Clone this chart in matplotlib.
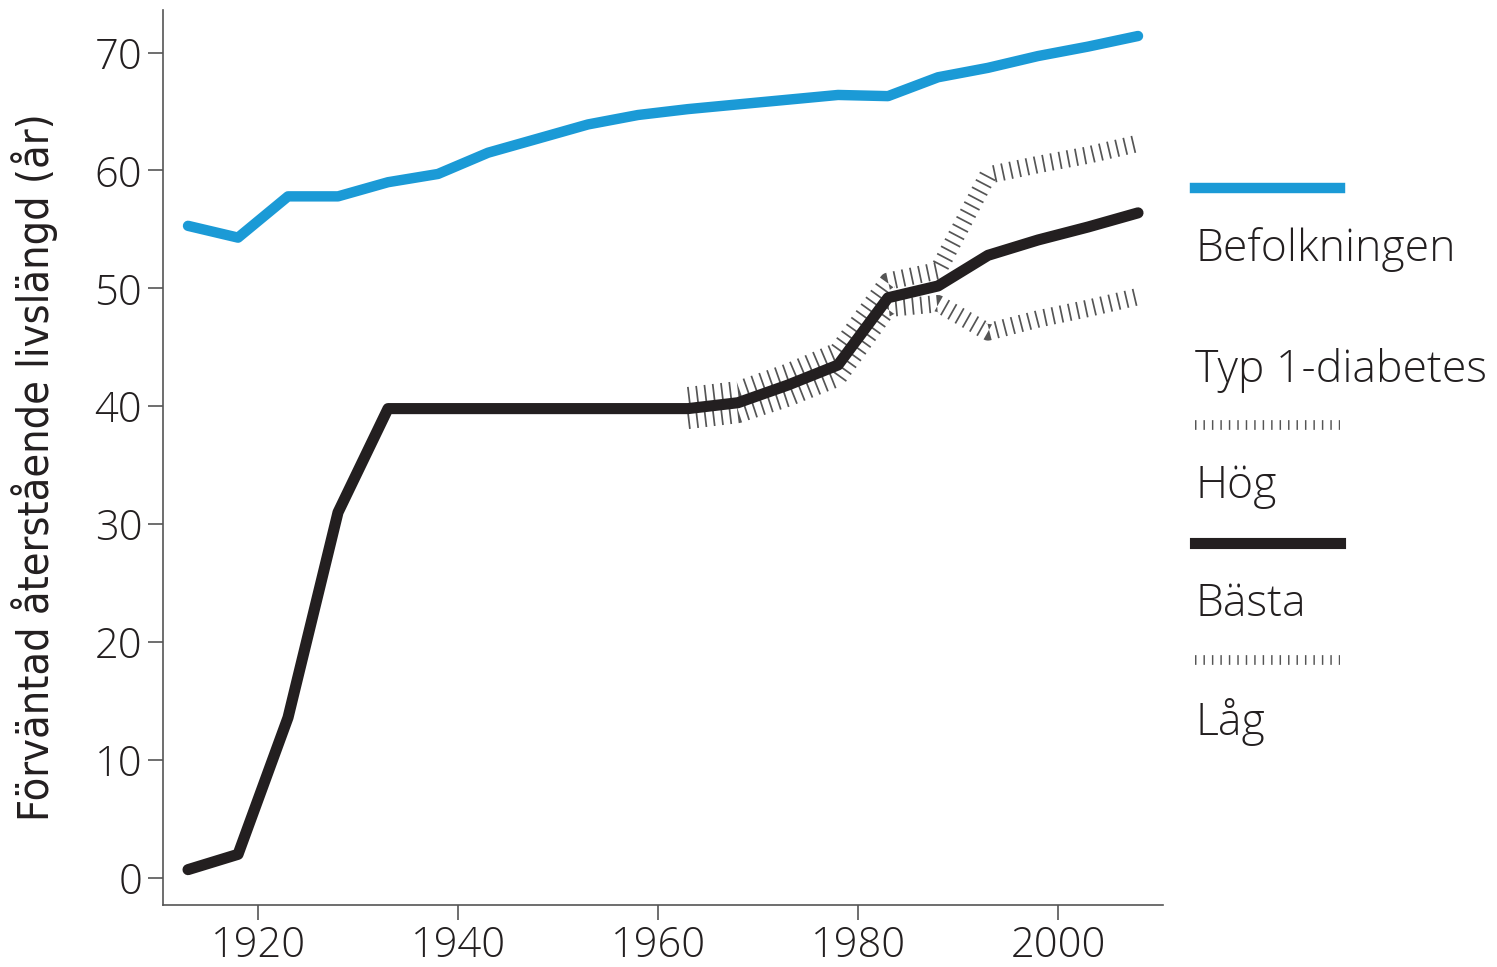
import matplotlib.pyplot as plt
from matplotlib.lines import Line2D

# data
years = [1913, 1918, 1923, 1928, 1933, 1938, 1943, 1948, 1953, 1958,
         1963, 1968, 1973, 1978, 1983, 1988, 1993, 1998, 2003, 2008]
befolkningen = [55.3, 54.3, 57.8, 57.8, 59.0, 59.7, 61.5, 62.7, 63.9, 64.7,
                65.2, 65.6, 66.0, 66.4, 66.3, 67.9, 68.7, 69.7, 70.5, 71.4]
basta = [0.7, 2.0, 13.6, 31.0, 39.8, 39.8, 39.8, 39.8, 39.8, 39.8,
         39.8, 40.3, 41.8, 43.5, 49.2, 50.2, 52.8, 54.1, 55.2, 56.4]

years_range = [1963, 1968, 1973, 1978, 1983, 1988, 1993, 1998, 2003, 2008]
hog = [40.9, 41.4, 42.9, 44.7, 50.6, 51.5, 59.6, 60.5, 61.3, 62.3]
lag = [38.8, 39.3, 40.7, 42.4, 48.3, 48.7, 46.3, 47.4, 48.3, 49.3]

xticks = [1920, 1940, 1960, 1980, 2000]
yticks = [0, 10, 20, 30, 40, 50, 60, 70]

BLUE = '#1b9ad6'
BLACK = '#231f20'
HATCH = '#555555'
FONT = ['Open Sans', 'DejaVu Sans']
hatch_style = (0, (0.1, 0.38))

fig = plt.figure(figsize=(14.97, 9.67), dpi=100)
ax = fig.add_axes([0.1089, 0.0641, 0.668, 0.9255])

for vals in (hog, lag):
    ax.plot(years_range, vals, color=HATCH, lw=12.5, ls=hatch_style,
            dash_joinstyle='round', zorder=2)
ax.plot(years, befolkningen, color=BLUE, lw=7.5, solid_capstyle='round',
        solid_joinstyle='round', zorder=3)
ax.plot(years, basta, color=BLACK, lw=8, solid_capstyle='round',
        solid_joinstyle='round', zorder=4)

ax.set_xlim(1910.5, 2010.5)
ax.set_ylim(-2.3, 73.6)
ax.set_xticks(xticks)
ax.set_yticks(yticks)
for s in ['top', 'right']:
    ax.spines[s].set_visible(False)
for s in ['left', 'bottom']:
    ax.spines[s].set_color('#555555')
    ax.spines[s].set_linewidth(1.2)
ax.tick_params(axis='both', colors='#555555', width=1.2, length=11,
               labelcolor=BLACK, labelsize=30, pad=4)
ax.tick_params(axis='x', pad=3)
for lab in ax.get_xticklabels() + ax.get_yticklabels():
    lab.set_family(FONT)
    lab.set_fontweight('light')

ax.set_ylabel('Förväntad återstående livslängd (år)', fontsize=31,
              family='DejaVu Sans', fontstretch='condensed',
              fontweight='light', color=BLACK)
ax.yaxis.set_label_coords(-0.105, 0.489)

# legend drawn by hand, labels below the samples
x0, x1 = 1195 / 1497, 1340 / 1497
def fy(py):
    return 1 - py / 967

hatch_legend = (0, (0.15, 0.72))
fig.add_artist(Line2D([x0, x1], [fy(188), fy(188)], color=BLUE, lw=7.5))
fig.add_artist(Line2D([x0, x1], [fy(425), fy(425)], color=HATCH, lw=7, ls=hatch_legend))
fig.add_artist(Line2D([x0, x1], [fy(543), fy(543)], color=BLACK, lw=8))
fig.add_artist(Line2D([x0, x1], [fy(660), fy(660)], color=HATCH, lw=7, ls=hatch_legend))

legend_texts = [('Befolkningen', 250), ('Typ 1-diabetes', 370), ('Hög', 487),
                ('Bästa', 605), ('Låg', 722)]
for txt, py in legend_texts:
    fig.text(x0, fy(py), txt, fontsize=32, family=FONT, fontweight='light',
             color=BLACK, va='center', ha='left')

fig.savefig('out.png', dpi=100)
